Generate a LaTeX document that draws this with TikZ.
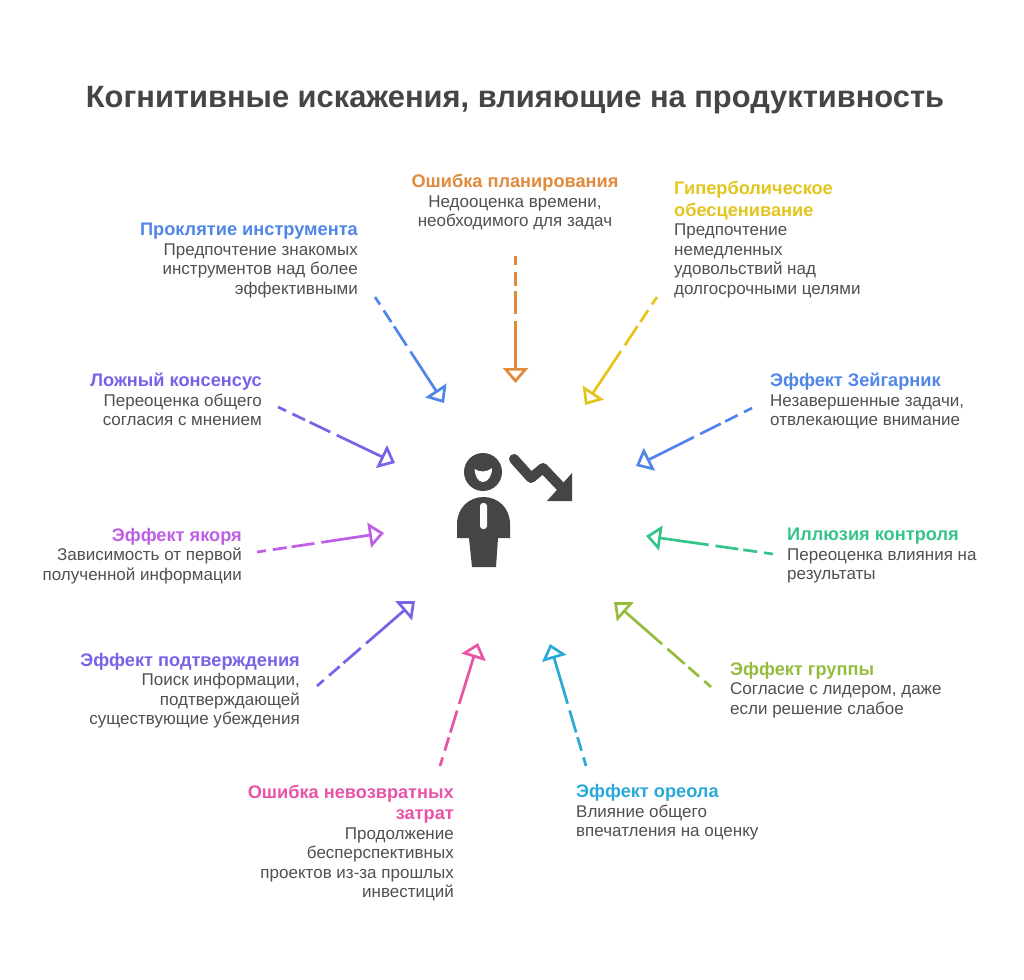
\documentclass[tikz,border=0pt]{standalone}
\usepackage{fontspec}
\setmainfont{Liberation Sans}
\usetikzlibrary{arrows.meta}
\definecolor{ttl}{HTML}{454545}
\definecolor{txt}{HTML}{505050}
\definecolor{cor}{HTML}{E08A3C}
\definecolor{cye}{HTML}{E3C51E}
\definecolor{cbl}{HTML}{4F86E8}
\definecolor{cpu}{HTML}{7B61E8}
\definecolor{cvi}{HTML}{BE5FE6}
\definecolor{cgr}{HTML}{35C58A}
\definecolor{cli}{HTML}{96BC3E}
\definecolor{ccy}{HTML}{2BA9D8}
\definecolor{cpi}{HTML}{E853A8}
\tikzset{
  x=1pt,y=-1pt,
  ttlnode/.style={font=\fontsize{30.85}{36}\selectfont\bfseries,text=ttl,inner sep=0pt},
  leftlab/.style={anchor=north east,align=right,inner sep=0pt,text=txt,font=\fontsize{17}{19.5}\selectfont},
  rightlab/.style={anchor=north west,align=left,inner sep=0pt,text=txt,font=\fontsize{17}{19.5}\selectfont},
  midlab/.style={anchor=north,align=center,inner sep=0pt,text=txt,font=\fontsize{17}{19.5}\selectfont},
  conn/.style={draw=#1,line width=2.7pt,
    dash pattern=on 9pt off 7pt on 14pt off 5pt on 23pt off 7pt on 70pt off 200pt,
    -{Triangle[open,length=15pt,width=25pt,line width=2.7pt,fill=white]}},
  iconfill/.style={fill=ttl,draw=none},
}
\newcommand{\hd}[2]{{\fontsize{18.2}{20}\selectfont\bfseries\textcolor{#1}{#2}}}
\begin{document}
\begin{tikzpicture}
\useasboundingbox (0,0) rectangle (1024,979);
\fill[white] (0,0) rectangle (1024,979);
\node[ttlnode] (title) at (515,100) {Когнитивные искажения, влияющие на продуктивность};

\node[midlab] (plan) at (515,174) {\hd{cor}{Ошибка планирования}\\Недооценка времени,\\необходимого для задач};
\node[rightlab] (hyper) at (674,181) {\hd{cye}{Гиперболическое}\\[2pt]\hd{cye}{обесценивание}\\Предпочтение\\немедленных\\удовольствий над\\долгосрочными целями};
\node[leftlab] (curse) at (358,223) {\hd{cbl}{Проклятие инструмента}\\Предпочтение знакомых\\инструментов над более\\эффективными};
\node[rightlab] (zeig) at (770,373) {\hd{cbl}{Эффект Зейгарник}\\Незавершенные задачи,\\отвлекающие внимание};
\node[leftlab] (cons) at (262,373) {\hd{cpu}{Ложный консенсус}\\Переоценка общего\\согласия с мнением};
\node[rightlab] (ctrl) at (787,528) {\hd{cgr}{Иллюзия контроля}\\Переоценка влияния на\\результаты};
\node[leftlab] (anch) at (242,528) {\hd{cvi}{Эффект якоря}\\Зависимость от первой\\полученной информации};
\node[leftlab] (conf) at (300,653) {\hd{cpu}{Эффект подтверждения}\\Поиск информации,\\подтверждающей\\существующие убеждения};
\node[rightlab] (grp) at (730,662) {\hd{cli}{Эффект группы}\\Согласие с лидером, даже\\если решение слабое};
\node[rightlab] (halo) at (576,784.5) {\hd{ccy}{Эффект ореола}\\Влияние общего\\впечатления на оценку};
\node[leftlab] (sunk) at (454,784.5) {\hd{cpi}{Ошибка невозвратных}\\[2pt]\hd{cpi}{затрат}\\Продолжение\\бесперспективных\\проектов из-за прошлых\\инвестиций};

\coordinate (s1) at (515.5,256); \coordinate (e1) at (515.5,383);
\coordinate (s2) at (657,297);   \coordinate (e2) at (585,405);
\coordinate (s3) at (375,297);   \coordinate (e3) at (444,403);
\coordinate (s4) at (752,408);   \coordinate (e4) at (636,466);
\coordinate (s5) at (278,407);   \coordinate (e5) at (395,463);
\coordinate (s6) at (773,554);   \coordinate (e6) at (646,536);
\coordinate (s7) at (257,552);   \coordinate (e7) at (384,533);
\coordinate (s8) at (317,686);   \coordinate (e8) at (415,601);
\coordinate (s9) at (711,687);   \coordinate (e9) at (614,602);
\coordinate (s10) at (586,766);  \coordinate (e10) at (550,644);
\coordinate (s11) at (440,766);  \coordinate (e11) at (478,643);

\draw[conn=cor] (s1) -- (e1);
\draw[conn=cye] (s2) -- (e2);
\draw[conn=cbl] (s3) -- (e3);
\draw[conn=cbl] (s4) -- (e4);
\draw[conn=cpu] (s5) -- (e5);
\draw[conn=cgr] (s6) -- (e6);
\draw[conn=cvi] (s7) -- (e7);
\draw[conn=cpu] (s8) -- (e8);
\draw[conn=cli] (s9) -- (e9);
\draw[conn=ccy] (s10) -- (e10);
\draw[conn=cpi] (s11) -- (e11);

% person
\fill[iconfill] (483,472) circle (19);
\fill[white] (474.5,469) .. controls (480,472.5) and (486,472.5) .. (492,468) .. controls (492,476) and (488,482) .. (483,482) .. controls (478,482) and (475,476) .. (474.5,469) -- cycle;
\fill[iconfill] (457,538) -- (457,524) .. controls (457,508) and (469,497) .. (483.5,497) .. controls (498,497) and (510,508) .. (510,524) -- (510,538) -- (498,538) -- (496,567) -- (472,567) -- (469,538) -- cycle;
\fill[white,rounded corners=3pt] (480,503) rectangle (487,529);
% falling arrow
\draw[ttl,line width=10pt,line cap=round,line join=round] (514,459) -- (531,478) -- (543,468) -- (560,486);
\fill[iconfill] (572,473) -- (572,501) -- (547,501) -- cycle;
\end{tikzpicture}
\end{document}
